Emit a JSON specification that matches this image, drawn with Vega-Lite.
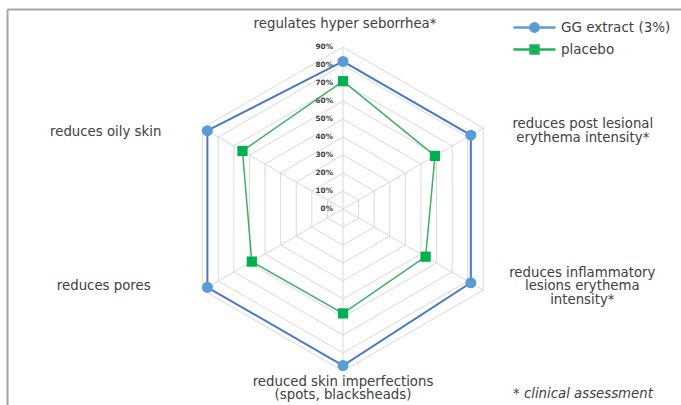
{
  "$schema": "https://vega.github.io/schema/vega-lite/v6.json",
  "width": 674,
  "height": 396,
  "autosize": "none",
  "padding": {"left": 7, "top": 9, "right": 0, "bottom": 0},
  "background": "white",
  "config": {
    "view": {"stroke": null},
    "font": "DejaVu Sans",
    "text": {"font": "DejaVu Sans", "fontSize": 13.3, "color": "#404040"}
  },
  "title": {
    "text": "* clinical assessment",
    "orient": "bottom",
    "anchor": "start",
    "align": "left",
    "offset": -18,
    "dx": 506,
    "font": "DejaVu Sans",
    "fontSize": 13.3,
    "fontStyle": "italic",
    "fontWeight": "normal",
    "color": "#404040"
  },
  "datasets": {
    "scores": [
      {"axis": "regulates hyper seborrhea*", "k": 0, "series": "GG extract (3%)", "value": 82},
      {"axis": "reduces post lesional erythema intensity*", "k": 1, "series": "GG extract (3%)", "value": 82},
      {"axis": "reduces inflammatory lesions erythema intensity*", "k": 2, "series": "GG extract (3%)", "value": 82},
      {"axis": "reduced skin imperfections (spots, blacksheads)", "k": 3, "series": "GG extract (3%)", "value": 87},
      {"axis": "reduces pores", "k": 4, "series": "GG extract (3%)", "value": 87},
      {"axis": "reduces oily skin", "k": 5, "series": "GG extract (3%)", "value": 87},
      {"axis": "regulates hyper seborrhea*", "k": 0, "series": "placebo", "value": 71},
      {"axis": "reduces post lesional erythema intensity*", "k": 1, "series": "placebo", "value": 59},
      {"axis": "reduces inflammatory lesions erythema intensity*", "k": 2, "series": "placebo", "value": 53},
      {"axis": "reduced skin imperfections (spots, blacksheads)", "k": 3, "series": "placebo", "value": 58},
      {"axis": "reduces pores", "k": 4, "series": "placebo", "value": 58.5},
      {"axis": "reduces oily skin", "k": 5, "series": "placebo", "value": 64.5}
    ],
    "axes": [
      {"k": 0, "label": ["regulates hyper seborrhea*"]},
      {"k": 1, "label": ["reduces post lesional", "erythema intensity*"]},
      {"k": 2, "label": ["reduces inflammatory", "lesions erythema", "intensity*"]},
      {"k": 3, "label": ["reduced skin imperfections", "(spots, blacksheads)"]},
      {"k": 4, "label": ["reduces pores"]},
      {"k": 5, "label": ["reduces oily skin"]}
    ],
    "rings": [
      {"r": 10, "k": [0, 1, 2, 3, 4, 5]},
      {"r": 20, "k": [0, 1, 2, 3, 4, 5]},
      {"r": 30, "k": [0, 1, 2, 3, 4, 5]},
      {"r": 40, "k": [0, 1, 2, 3, 4, 5]},
      {"r": 50, "k": [0, 1, 2, 3, 4, 5]},
      {"r": 60, "k": [0, 1, 2, 3, 4, 5]},
      {"r": 70, "k": [0, 1, 2, 3, 4, 5]},
      {"r": 80, "k": [0, 1, 2, 3, 4, 5]},
      {"r": 90, "k": [0, 1, 2, 3, 4, 5]}
    ],
    "ticks": [
      {"t": 0, "tick": "0%"},
      {"t": 10, "tick": "10%"},
      {"t": 20, "tick": "20%"},
      {"t": 30, "tick": "30%"},
      {"t": 40, "tick": "40%"},
      {"t": 50, "tick": "50%"},
      {"t": 60, "tick": "60%"},
      {"t": 70, "tick": "70%"},
      {"t": 80, "tick": "80%"},
      {"t": 90, "tick": "90%"}
    ]
  },
  "encoding": {
    "x": {
      "field": "px", "type": "quantitative",
      "scale": {"domain": [-186.667, 187.778], "nice": false, "zero": false},
      "axis": {"orient": "top", "domain": true, "domainColor": "#a6a6a6", "domainWidth": 2, "ticks": false, "labels": false, "grid": false, "title": null}
    },
    "y": {
      "field": "py", "type": "quantitative",
      "scale": {"domain": [-108.889, 111.111], "nice": false, "zero": false},
      "axis": {"orient": "left", "domain": true, "domainColor": "#a6a6a6", "domainWidth": 2, "ticks": false, "labels": false, "grid": false, "title": null}
    }
  },
  "layer": [
    {
      "data": {"name": "rings"},
      "transform": [
        {"flatten": ["k"]},
        {"calculate": "datum.r * sin(datum.k * PI / 3)", "as": "px"},
        {"calculate": "datum.r * cos(datum.k * PI / 3)", "as": "py"}
      ],
      "mark": {"type": "line", "interpolate": "linear-closed", "color": "#d9d9d9", "strokeWidth": 1},
      "encoding": {
        "detail": {"field": "r", "type": "nominal"},
        "order": {"field": "k", "type": "quantitative"}
      }
    },
    {
      "data": {"name": "axes"},
      "transform": [
        {"calculate": "90 * sin(datum.k * PI / 3)", "as": "px"},
        {"calculate": "90 * cos(datum.k * PI / 3)", "as": "py"}
      ],
      "mark": {"type": "rule", "color": "#d9d9d9", "strokeWidth": 1},
      "encoding": {
        "x": {"datum": 0, "type": "quantitative"},
        "y": {"datum": 0, "type": "quantitative"},
        "x2": {"field": "px"},
        "y2": {"field": "py"}
      }
    },
    {
      "data": {"name": "ticks"},
      "transform": [
        {"calculate": "0", "as": "px"},
        {"calculate": "datum.t", "as": "py"}
      ],
      "mark": {"type": "text", "align": "right", "baseline": "middle", "dx": -10, "fontSize": 7.3, "fontWeight": "bold", "color": "#404040"},
      "encoding": {
        "text": {"field": "tick", "type": "nominal"}
      }
    },
    {
      "data": {"name": "scores"},
      "transform": [
        {"calculate": "datum.value * sin(datum.k * PI / 3)", "as": "px"},
        {"calculate": "datum.value * cos(datum.k * PI / 3)", "as": "py"}
      ],
      "mark": {"type": "line", "interpolate": "linear-closed"},
      "encoding": {
        "color": {"field": "series", "type": "nominal", "scale": {"domain": ["GG extract (3%)", "placebo"], "range": ["#4a78c2", "#3fb062"]}, "legend": null},
        "strokeWidth": {"field": "series", "type": "nominal", "scale": {"domain": ["GG extract (3%)", "placebo"], "range": [2, 1.5]}, "legend": null},
        "order": {"field": "k", "type": "quantitative"}
      }
    },
    {
      "data": {"name": "scores"},
      "transform": [
        {"filter": "datum.series === 'GG extract (3%)'"},
        {"calculate": "datum.value * sin(datum.k * PI / 3)", "as": "px"},
        {"calculate": "datum.value * cos(datum.k * PI / 3)", "as": "py"}
      ],
      "mark": {"type": "point", "filled": true, "opacity": 1, "size": 121, "shape": "circle"},
      "encoding": {
        "color": {
          "field": "series", "type": "nominal",
          "scale": {"domain": ["GG extract (3%)"], "range": ["#5b9bd5"]},
          "legend": {
            "orient": "none", "legendX": 505, "legendY": -4, "title": null,
            "symbolSize": 1764, "symbolStrokeWidth": 2.5,
            "symbolType": "M-1,0H1M0.2,0A0.2,0.2,0,1,1,-0.2,0A0.2,0.2,0,1,1,0.2,0Z",
            "symbolFillColor": "#5b9bd5", "symbolStrokeColor": "#5b9bd5",
            "labelFont": "DejaVu Sans", "labelFontSize": 13.5, "labelColor": "#404040",
            "labelOffset": 4, "padding": 0,
            "encode": {
              "symbols": {
                "shape": {"value": "M-1,0H1M0.2,0A0.2,0.2,0,1,1,-0.2,0A0.2,0.2,0,1,1,0.2,0Z"},
                "fill": {"value": "#5b9bd5"},
                "stroke": {"value": "#5b9bd5"},
                "strokeWidth": {"value": 2.5},
                "size": {"value": 1764},
                "opacity": {"value": 1}
              }
            }
          }
        }
      }
    },
    {
      "data": {"name": "scores"},
      "transform": [
        {"filter": "datum.series === 'placebo'"},
        {"calculate": "datum.value * sin(datum.k * PI / 3)", "as": "px"},
        {"calculate": "datum.value * cos(datum.k * PI / 3)", "as": "py"}
      ],
      "mark": {"type": "point", "filled": true, "opacity": 1, "size": 105, "shape": "square"},
      "encoding": {
        "color": {
          "field": "series", "type": "nominal",
          "scale": {"domain": ["placebo"], "range": ["#00b050"]},
          "legend": {
            "orient": "none", "legendX": 505, "legendY": 18, "title": null,
            "symbolSize": 1764, "symbolStrokeWidth": 2.5,
            "symbolType": "M-1,0H1M-0.19,-0.19H0.19V0.19H-0.19Z",
            "symbolFillColor": "#00b050", "symbolStrokeColor": "#1fb35a",
            "labelFont": "DejaVu Sans", "labelFontSize": 13.5, "labelColor": "#404040",
            "labelOffset": 4, "padding": 0,
            "encode": {
              "symbols": {
                "shape": {"value": "M-1,0H1M-0.19,-0.19H0.19V0.19H-0.19Z"},
                "fill": {"value": "#00b050"},
                "stroke": {"value": "#1fb35a"},
                "strokeWidth": {"value": 2.5},
                "size": {"value": 1764},
                "opacity": {"value": 1}
              }
            }
          }
        }
      }
    },
    {
      "data": {"name": "axes"},
      "transform": [
        {"calculate": "90 * sin(datum.k * PI / 3)", "as": "px"},
        {"calculate": "90 * cos(datum.k * PI / 3)", "as": "py"}
      ],
      "layer": [
        {"transform": [{"filter": "datum.k == 0"}], "mark": {"type": "text", "align": "center", "baseline": "middle", "dx": 2, "dy": -23, "lineHeight": 13.5}, "encoding": {"text": {"field": "label"}}},
        {"transform": [{"filter": "datum.k == 1"}], "mark": {"type": "text", "align": "center", "baseline": "middle", "dx": 99.5, "dy": -3.5, "lineHeight": 13.5}, "encoding": {"text": {"field": "label"}}},
        {"transform": [{"filter": "datum.k == 2"}], "mark": {"type": "text", "align": "center", "baseline": "middle", "dx": 99, "dy": -17, "lineHeight": 13.5}, "encoding": {"text": {"field": "label"}}},
        {"transform": [{"filter": "datum.k == 3"}], "mark": {"type": "text", "align": "center", "baseline": "middle", "dx": 0, "dy": 11, "lineHeight": 13.5}, "encoding": {"text": {"field": "label"}}},
        {"transform": [{"filter": "datum.k == 4"}], "mark": {"type": "text", "align": "center", "baseline": "middle", "dx": -99, "dy": -3.5, "lineHeight": 13}, "encoding": {"text": {"field": "label"}}},
        {"transform": [{"filter": "datum.k == 5"}], "mark": {"type": "text", "align": "center", "baseline": "middle", "dx": -97, "dy": 4, "lineHeight": 13}, "encoding": {"text": {"field": "label"}}}
      ]
    }
  ],
  "resolve": {"scale": {"color": "independent", "strokeWidth": "independent"}}
}
